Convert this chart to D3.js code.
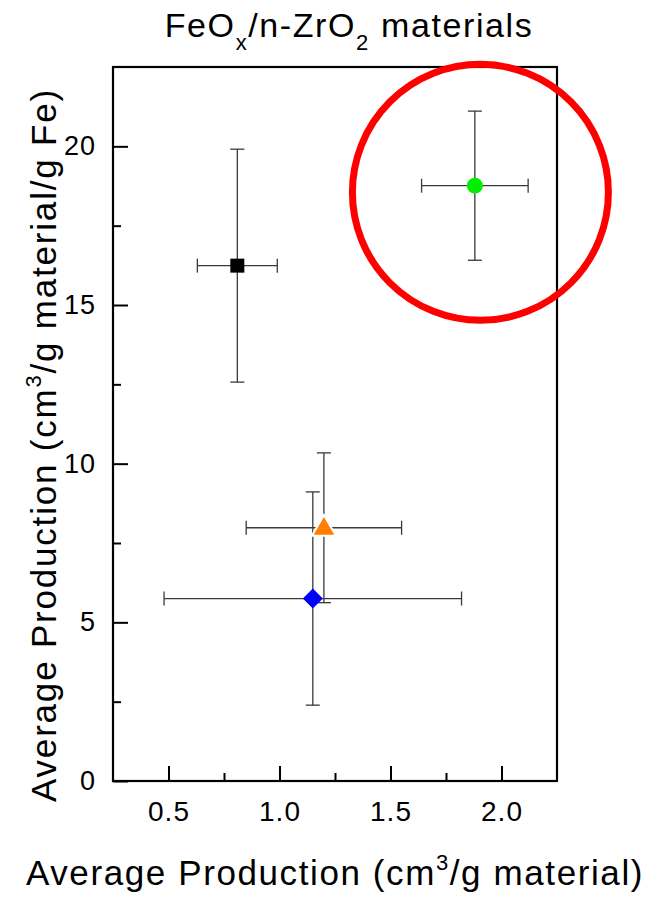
<!DOCTYPE html>
<html lang="en">
<head>
    <meta charset="UTF-8">
    <title>FeOx/n-ZrO2 materials</title>
    <style>
        body { margin: 0; background: #fff; }
        text { font-family: "Liberation Sans", Arial, sans-serif; fill: #000; }
    </style>
</head>
<body>
    <div id="d3-container"></div>
    <script src="https://cdn.jsdelivr.net/npm/d3@7"></script>
    <script>
        // values
        const samples = ["square", "circle", "triangle", "diamond"];
        const xValues = [0.81, 1.88, 1.20, 1.15];
        const xErrors = [0.18, 0.24, 0.35, 0.67];
        const yValues = [16.24, 18.76, 7.98, 5.75];
        const yErrors = [3.67, 2.35, 2.36, 3.36];
        const colors = ["#000000", "#00ee00", "#ff7f00", "#0000ff"];

        const xTicks = [0.5, 1.0, 1.5, 2.0];
        const xMinorTicks = [0.75, 1.25, 1.75];
        const yTicks = [0, 5, 10, 15, 20];
        const yMinorTicks = [2.5, 7.5, 12.5, 17.5];

        // highlight ring around the top-right point
        const ring = { x: 1.905, y: 18.55 };

        const width = 648;
        const height = 900;
        const margin = { top: 67, right: 91, bottom: 119, left: 113 };

        const svg = d3.select('#d3-container')
            .append('svg')
            .attr('width', width)
            .attr('height', height);

        const x = d3.scaleLinear()
            .domain([0.25, 2.25])
            .range([margin.left, width - margin.right]);

        const y = d3.scaleLinear()
            .domain([0, 22.5])
            .range([height - margin.bottom, margin.top]);

        const data = samples.map((s, i) => ({
            shape: s, x: xValues[i], y: yValues[i],
            ex: xErrors[i], ey: yErrors[i], color: colors[i]
        }));

        // error bars
        const cap = 7;
        const eb = svg.append('g')
            .attr('stroke', '#3a3a3a')
            .attr('stroke-width', 1.3)
            .attr('fill', 'none');

        data.forEach(d => {
            const g = eb.append('g');
            g.append('line')
                .attr('x1', x(d.x)).attr('x2', x(d.x))
                .attr('y1', y(d.y + d.ey)).attr('y2', y(d.y - d.ey));
            g.append('line')
                .attr('x1', x(d.x - d.ex)).attr('x2', x(d.x + d.ex))
                .attr('y1', y(d.y)).attr('y2', y(d.y));
            [d.y + d.ey, d.y - d.ey].forEach(v => {
                g.append('line')
                    .attr('x1', x(d.x) - cap).attr('x2', x(d.x) + cap)
                    .attr('y1', y(v)).attr('y2', y(v));
            });
            [d.x - d.ex, d.x + d.ex].forEach(v => {
                g.append('line')
                    .attr('x1', x(v)).attr('x2', x(v))
                    .attr('y1', y(d.y) - cap).attr('y2', y(d.y) + cap);
            });
        });

        // markers
        const symbolType = {
            square: d3.symbolSquare,
            circle: d3.symbolCircle,
            triangle: d3.symbolTriangle,
            diamond: d3.symbolSquare
        };
        const symbolSize = { square: 196, circle: 201, triangle: 250, diamond: 200 };

        svg.append('g')
            .selectAll('path')
            .data(data)
            .join('path')
            .attr('d', d => d3.symbol().type(symbolType[d.shape]).size(symbolSize[d.shape])())
            .attr('transform', d => `translate(${x(d.x)},${y(d.y)})` +
                (d.shape === 'diamond' ? ' rotate(45)' : '') +
                (d.shape === 'triangle' ? ' translate(0,1)' : ''))
            .attr('fill', d => d.color)
            .attr('stroke', d => d.shape === 'triangle' ? '#fff' : 'none')
            .attr('stroke-width', d => d.shape === 'triangle' ? 2 : 0);

        // axes
        function xAxis(g) {
            g.attr('transform', `translate(0,${height - margin.bottom})`)
                .call(d3.axisBottom(x).tickValues(xTicks).tickFormat(d3.format('.1f'))
                    .tickSize(-15).tickPadding(20))
                .call(g => g.select('.domain').remove())
                .attr('font-size', '28px');
        }
        function xMinor(g) {
            g.attr('transform', `translate(0,${height - margin.bottom})`)
                .call(d3.axisBottom(x).tickValues(xMinorTicks).tickFormat('').tickSize(-8))
                .call(g => g.select('.domain').remove());
        }
        function yAxis(g) {
            g.attr('transform', `translate(${margin.left},0)`)
                .call(d3.axisLeft(y).tickValues(yTicks).tickSize(-15).tickPadding(17))
                .call(g => g.select('.domain').remove())
                .attr('font-size', '27px');
        }
        function yMinor(g) {
            g.attr('transform', `translate(${margin.left},0)`)
                .call(d3.axisLeft(y).tickValues(yMinorTicks).tickFormat('').tickSize(-8))
                .call(g => g.select('.domain').remove());
        }

        [xAxis, xMinor, yAxis, yMinor].forEach(f => {
            svg.append('g').call(f)
                .attr('font-family', '"Liberation Sans", Arial, sans-serif')
                .selectAll('.tick line').attr('stroke-width', 2);
        });
        svg.selectAll('.tick text').attr('letter-spacing', '1px');

        // frame
        svg.append('rect')
            .attr('x', x.range()[0])
            .attr('y', y.range()[1])
            .attr('width', x.range()[1] - x.range()[0])
            .attr('height', y.range()[0] - y.range()[1])
            .attr('fill', 'none')
            .attr('stroke', '#000')
            .attr('stroke-width', 2.2);

        // ring annotation
        svg.append('ellipse')
            .attr('cx', x(ring.x))
            .attr('cy', y(ring.y))
            .attr('rx', 128)
            .attr('ry', 128)
            .attr('fill', 'none')
            .attr('stroke', '#ff0000')
            .attr('stroke-width', 7);

        // title
        const title = svg.append('text')
            .attr('x', 349)
            .attr('y', 37)
            .attr('text-anchor', 'middle')
            .attr('letter-spacing', '1.6px')
            .attr('font-size', '34px');
        title.append('tspan').text('FeO');
        title.append('tspan').attr('font-size', '22px').attr('dy', 13).text('x');
        title.append('tspan').attr('dy', -13).text('/n-ZrO');
        title.append('tspan').attr('font-size', '22px').attr('dy', 13).text('2');
        title.append('tspan').attr('dy', -13).text(' materials');

        // x label
        const xl = svg.append('text')
            .attr('x', 335)
            .attr('y', 885)
            .attr('text-anchor', 'middle')
            .attr('letter-spacing', '1.6px')
            .attr('font-size', '35px');
        xl.append('tspan').text('Average Production (cm');
        xl.append('tspan').attr('font-size', '22px').attr('dy', -15).text('3');
        xl.append('tspan').attr('dy', 15).text('/g material)');

        // y label
        const yl = svg.append('text')
            .attr('transform', 'translate(56,445) rotate(-90)')
            .attr('text-anchor', 'middle')
            .attr('letter-spacing', '1.8px')
            .attr('font-size', '35px');
        yl.append('tspan').text('Average Production (cm');
        yl.append('tspan').attr('font-size', '22px').attr('dy', -15).text('3');
        yl.append('tspan').attr('dy', 15).text('/g material/g Fe)');
    </script>
</body>
</html>
